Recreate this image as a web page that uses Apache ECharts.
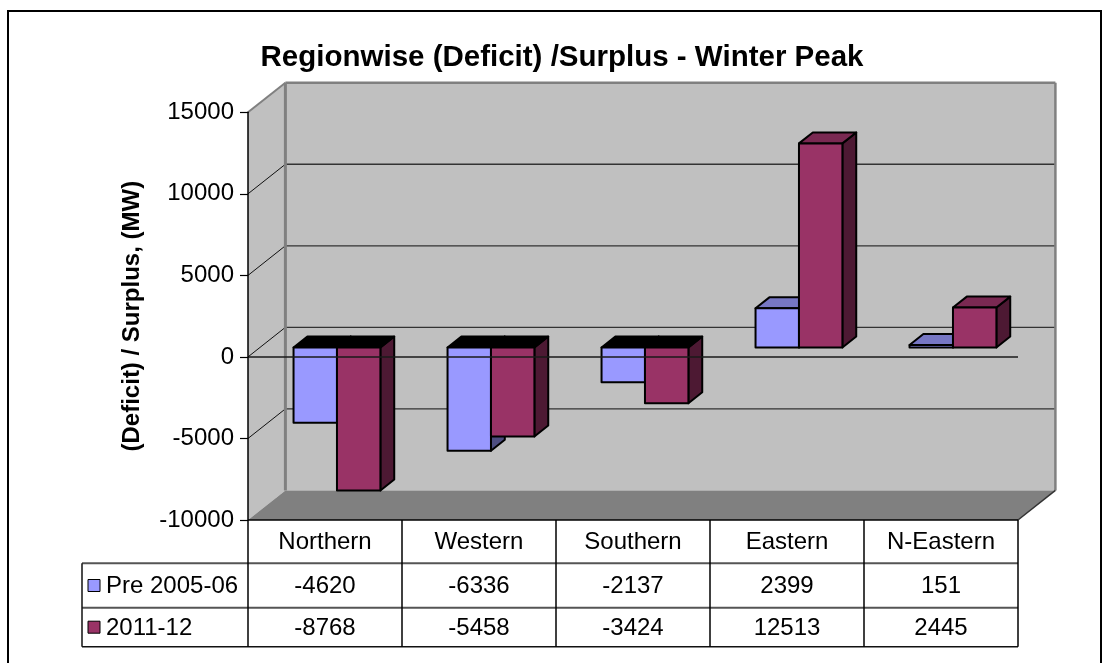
<!DOCTYPE html>
<html><head><meta charset="utf-8">
<script src="https://cdn.jsdelivr.net/npm/echarts@6/dist/echarts.min.js"></script>
<style>html,body{margin:0;padding:0;background:#fff}#c{width:1104px;height:663px}</style>
</head><body><div id="c"></div>
<script>
// ---- data ----
const categories = ['Northern', 'Western', 'Southern', 'Eastern', 'N-Eastern'];
const seriesNames = ['Pre 2005-06', '2011-12'];
const valuesPre = [-4620, -6336, -2137, 2399, 151];
const values2011 = [-8768, -5458, -3424, 12513, 2445];
const yTicks = [-10000, -5000, 0, 5000, 10000, 15000];
const titleText = 'Regionwise (Deficit) /Surplus - Winter Peak';
const yName = '(Deficit) / Surplus, (MW)';

// ---- style ----
const FONT = '"Liberation Sans", Arial, sans-serif';
const DX = 37.4, DY = -29.6;          // full depth offset of the 3D box
const BAR_FRONT = 0.32, BAR_DEPTH = 0.37; // bar depth fractions
const BAR_W = 0.282;                  // bar width as fraction of band
const palette = [
  { front: '#9999FF', top: '#7777C4', side: '#4D4D80' },
  { front: '#993366', top: '#7A2952', side: '#4D1933' }
];
const Y_MIN = yTicks[0], Y_MAX = yTicks[yTicks.length - 1];
const allSeries = [valuesPre, values2011];

const chart = echarts.init(document.getElementById('c'), null, { renderer: 'canvas' });

function frame(api) {
  const band = api.size([1, 0])[0];
  const xl = api.coord([0, 0])[0] - band / 2;
  const xr = api.coord([categories.length - 1, 0])[0] + band / 2;
  const yTop = api.coord([0, Y_MAX])[1];
  const yBot = api.coord([0, Y_MIN])[1];
  return { band, xl, xr, yTop, yBot };
}
function line(x1, y1, x2, y2, stroke, w) {
  return { type: 'line', shape: { x1, y1, x2, y2 }, style: { stroke, lineWidth: w } };
}

function renderWalls(params, api) {
  const f = frame(api);
  const ch = [];
  // left wall
  ch.push({ type: 'polygon', shape: { points: [[f.xl, f.yTop], [f.xl + DX, f.yTop + DY], [f.xl + DX, f.yBot + DY], [f.xl, f.yBot]] },
    style: { fill: '#c0c0c0' } });
  // back wall
  ch.push({ type: 'rect', shape: { x: f.xl + DX, y: f.yTop + DY, width: f.xr - f.xl, height: f.yBot - f.yTop },
    style: { fill: '#c0c0c0' } });
  // floor
  ch.push({ type: 'polygon', shape: { points: [[f.xl, f.yBot], [f.xr, f.yBot], [f.xr + DX, f.yBot + DY], [f.xl + DX, f.yBot + DY]] },
    style: { fill: '#808080' } });
  // gridlines
  yTicks.forEach(t => {
    const y = api.coord([0, t])[1];
    if (t > Y_MIN && t < Y_MAX) {
      ch.push(line(f.xl + DX, y + DY, f.xr + DX, y + DY, '#333', 1.3));
      ch.push(line(f.xl, y, f.xl + DX, y + DY, '#111', 1));
    }
  });
  // wall edges
  ch.push(line(f.xl, f.yTop, f.xl + DX, f.yTop + DY, '#808080', 2));
  ch.push(line(f.xl + DX, f.yTop + DY, f.xr + DX, f.yTop + DY, '#808080', 2.5));
  ch.push(line(f.xl + DX, f.yTop + DY, f.xl + DX, f.yBot + DY, '#808080', 3));
  ch.push(line(f.xr + DX, f.yTop + DY, f.xr + DX, f.yBot + DY, '#808080', 2.5));
  ch.push(line(f.xr, f.yBot, f.xr + DX, f.yBot + DY, '#333', 1.5));
  return { type: 'group', children: ch };
}

function makeBarRenderer(s) {
  return function (params, api) {
    const i = api.value(0), v = api.value(1);
    const band = api.size([1, 0])[0];
    const c0 = api.coord([i, 0]);
    const yv = api.coord([i, v])[1];
    const yz = c0[1];
    const w = band * BAR_W;
    const ox = DX * BAR_FRONT, oy = DY * BAR_FRONT;
    const bx = DX * BAR_DEPTH, by = DY * BAR_DEPTH;
    const x0 = c0[0] + ox - w + s * w, x1 = x0 + w;
    const yt = Math.min(yv, yz) + oy, yb = Math.max(yv, yz) + oy;
    const col = palette[s];
    const stroke = { stroke: '#000', lineWidth: 2, lineJoin: 'round' };
    return {
      type: 'group', children: [
        { type: 'polygon', shape: { points: [[x1, yt], [x1 + bx, yt + by], [x1 + bx, yb + by], [x1, yb]] },
          style: Object.assign({ fill: col.side }, stroke) },
        { type: 'polygon', shape: { points: [[x0, yt], [x1, yt], [x1 + bx, yt + by], [x0 + bx, yt + by]] },
          style: Object.assign({ fill: v < 0 ? '#000' : col.top }, stroke) },
        { type: 'rect', shape: { x: x0, y: yt, width: w, height: yb - yt },
          style: Object.assign({ fill: col.front }, stroke) }
      ]
    };
  };
}

function renderOverlay(params, api) {
  const f = frame(api);
  const ch = [];
  const y0 = api.coord([0, 0])[1];
  // front zero line
  ch.push(line(f.xl, y0, f.xr, y0, '#1a1a1a', 1.5));
  // data table
  const rows = [f.yBot, f.yBot + 43.3, f.yBot + 87.7, f.yBot + 126.7];
  const labelL = 82;
  ch.push(line(f.xl, rows[0], f.xr, rows[0], '#000', 1.5));
  ch.push(line(labelL, rows[1], f.xr, rows[1], '#555', 2));
  ch.push(line(labelL, rows[2], f.xr, rows[2], '#555', 2));
  ch.push(line(labelL, rows[3], f.xr, rows[3], '#111', 1.5));
  ch.push(line(labelL, rows[1], labelL, rows[3], '#111', 1.5));
  for (let k = 0; k <= categories.length; k++) {
    const x = f.xl + k * f.band;
    ch.push(line(x, rows[0], x, rows[3], '#000', 1.5));
  }
  const txt = (text, x, y, align) => ({ type: 'text', x, y,
    style: { text, fill: '#000', font: '24px ' + FONT, textAlign: align || 'center', textVerticalAlign: 'middle' } });
  categories.forEach((c, i) => {
    const cx = api.coord([i, 0])[0];
    ch.push(txt(c, cx, (rows[0] + rows[1]) / 2 + 1));
    allSeries.forEach((vals, s) => {
      ch.push(txt(String(vals[i]), cx, (rows[s + 1] + rows[s + 2]) / 2 + 1));
    });
  });
  seriesNames.forEach((n, s) => {
    const cy = (rows[s + 1] + rows[s + 2]) / 2;
    ch.push({ type: 'rect', shape: { x: labelL + 6, y: cy - 6, width: 12, height: 12 },
      style: { fill: palette[s].front, stroke: '#000', lineWidth: 1 } });
    ch.push(txt(n, labelL + 24, cy + 1, 'left'));
  });
  return { type: 'group', children: ch };
}

const option = {
  backgroundColor: '#fff',
  animation: false,
  title: {
    text: titleText, left: 557, top: 53, textAlign: 'center', textVerticalAlign: 'middle',
    textStyle: { fontFamily: FONT, fontSize: 29.5, fontWeight: 'bold', color: '#000' }
  },
  grid: { left: 248, right: 86, top: 112.3, bottom: 143, outerBoundsMode: 'none' },
  xAxis: {
    type: 'category', data: categories,
    axisLine: { show: false }, axisTick: { show: false }, axisLabel: { show: false }, splitLine: { show: false }
  },
  yAxis: {
    type: 'value', min: Y_MIN, max: Y_MAX, interval: 5000, z: 10,
    name: yName, nameLocation: 'middle', nameGap: 104, nameRotate: 90,
    nameTextStyle: { fontFamily: FONT, fontSize: 24, fontWeight: 'bold', color: '#000' },
    axisLine: { show: true, lineStyle: { color: '#000', width: 1.5 } },
    axisTick: { show: true, length: 8, lineStyle: { color: '#000', width: 1.2 } },
    axisLabel: { fontFamily: FONT, fontSize: 24, color: '#000', margin: 14, formatter: v => String(v) },
    splitLine: { show: false }
  },
  series: [
    { type: 'custom', name: 'walls', z: 1, clip: false, renderItem: renderWalls, data: [[0, 0]], encode: { x: 0, y: 1 } },
    { type: 'custom', name: seriesNames[0], z: 3, clip: false, renderItem: makeBarRenderer(0),
      data: valuesPre.map((v, i) => [i, v]), encode: { x: 0, y: 1 } },
    { type: 'custom', name: seriesNames[1], z: 4, clip: false, renderItem: makeBarRenderer(1),
      data: values2011.map((v, i) => [i, v]), encode: { x: 0, y: 1 } },
    { type: 'custom', name: 'overlay', z: 5, clip: false, renderItem: renderOverlay, data: [[0, 0]], encode: { x: 0, y: 1 } }
  ],
  graphic: [
    { type: 'rect', z: 100, shape: { x: 8, y: 11, width: 1093, height: 700 }, style: { fill: null, stroke: '#000', lineWidth: 2 } }
  ]
};
chart.setOption(option);
</script></body></html>
